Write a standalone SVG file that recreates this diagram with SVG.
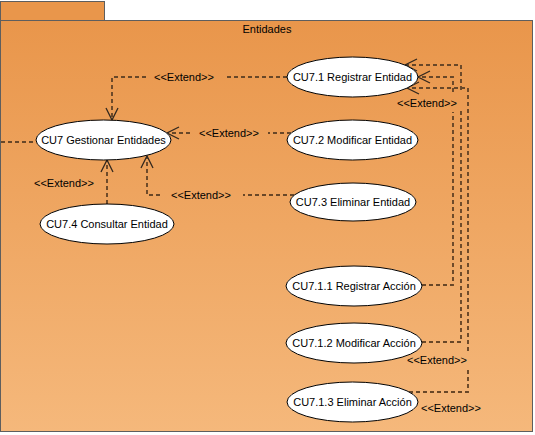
<svg xmlns="http://www.w3.org/2000/svg" width="535" height="435" viewBox="0 0 535 435">
<style>
.uc ellipse{fill:#fff;stroke:#000;stroke-width:1}
text{font-family:"Liberation Sans",Arial,sans-serif;font-size:11px;fill:#000}
.uc text{text-anchor:middle}
.lbl{text-anchor:middle}
.edge{fill:none;stroke:#684728;stroke-width:1.9;stroke-dasharray:4 3}
</style>
<defs>
<linearGradient id="bg" x1="0" y1="0" x2="0" y2="1">
<stop offset="0" stop-color="#E9964B"/>
<stop offset="1" stop-color="#F5B87B"/>
</linearGradient>
<marker id="open" markerUnits="userSpaceOnUse" markerWidth="16" markerHeight="16" viewBox="-14 -8 16 16" refX="0" refY="0" orient="auto">
<path d="M-12,-6 L0,0 L-12,6" fill="none" stroke="#33281e" stroke-width="1.3"/>
</marker>
</defs>
<rect width="535" height="435" fill="#fff"/>
<g id="package">
<rect x="0.5" y="1.5" width="104" height="19" fill="#E9964B" stroke="#5e5e5e" stroke-width="1"/>
<rect x="0.5" y="20.5" width="532" height="411" fill="url(#bg)" stroke="#5e5e5e" stroke-width="1"/>
<text x="267" y="33" text-anchor="middle">Entidades</text>
</g>
<g id="connectors">
<path class="edge" d="M1,142 H36"/>
<path class="edge" d="M287,77 H227"/>
<path class="edge" d="M146,77 H112 V120" marker-end="url(#open)"/>
<path class="edge" d="M291,133 H268"/>
<path class="edge" d="M190,133 H167" marker-end="url(#open)"/>
<path class="edge" d="M294,195 H243"/>
<path class="edge" d="M160,195 H147 V156" marker-end="url(#open)"/>
<path class="edge" d="M107,204 V160" marker-end="url(#open)"/>
<path class="edge" d="M422,285 H453 V112"/>
<path class="edge" d="M453,92 V77 H418" marker-end="url(#open)"/>
<path class="edge" d="M422,342 H461 V110"/>
<path class="edge" d="M461,90 V65 H405" marker-end="url(#open)"/>
<path class="edge" d="M409,392 H468 V368"/>
<path class="edge" d="M468,351 V88 H407" marker-end="url(#open)"/>
<text class="lbl" x="184" y="81">&lt;&lt;Extend&gt;&gt;</text>
<text class="lbl" x="229" y="137">&lt;&lt;Extend&gt;&gt;</text>
<text class="lbl" x="201" y="199">&lt;&lt;Extend&gt;&gt;</text>
<text class="lbl" x="64" y="187">&lt;&lt;Extend&gt;&gt;</text>
<text class="lbl" x="427" y="107">&lt;&lt;Extend&gt;&gt;</text>
<text class="lbl" x="437" y="364">&lt;&lt;Extend&gt;&gt;</text>
<text class="lbl" x="451" y="412">&lt;&lt;Extend&gt;&gt;</text>
</g>
<g id="cu7" class="uc"><ellipse cx="103.5" cy="140" rx="67.5" ry="20"/><text x="103.5" y="144">CU7 Gestionar Entidades</text></g>
<g id="cu7-1" class="uc"><ellipse cx="352.5" cy="77" rx="65.5" ry="20"/><text x="352.5" y="81">CU7.1 Registrar Entidad</text></g>
<g id="cu7-2" class="uc"><ellipse cx="352.5" cy="140" rx="65.5" ry="20"/><text x="352.5" y="144">CU7.2 Modificar Entidad</text></g>
<g id="cu7-3" class="uc"><ellipse cx="353" cy="202" rx="63" ry="19"/><text x="353" y="206">CU7.3 Eliminar Entidad</text></g>
<g id="cu7-4" class="uc"><ellipse cx="107" cy="224" rx="67" ry="20"/><text x="107" y="228">CU7.4 Consultar Entidad</text></g>
<g id="cu7-1-1" class="uc"><ellipse cx="354" cy="286" rx="68" ry="20"/><text x="354" y="290">CU7.1.1 Registrar Acción</text></g>
<g id="cu7-1-2" class="uc"><ellipse cx="354" cy="343" rx="68" ry="20"/><text x="354" y="347">CU7.1.2 Modificar Acción</text></g>
<g id="cu7-1-3" class="uc"><ellipse cx="352.5" cy="402" rx="65.5" ry="20"/><text x="352.5" y="406">CU7.1.3 Eliminar Acción</text></g>
</svg>
